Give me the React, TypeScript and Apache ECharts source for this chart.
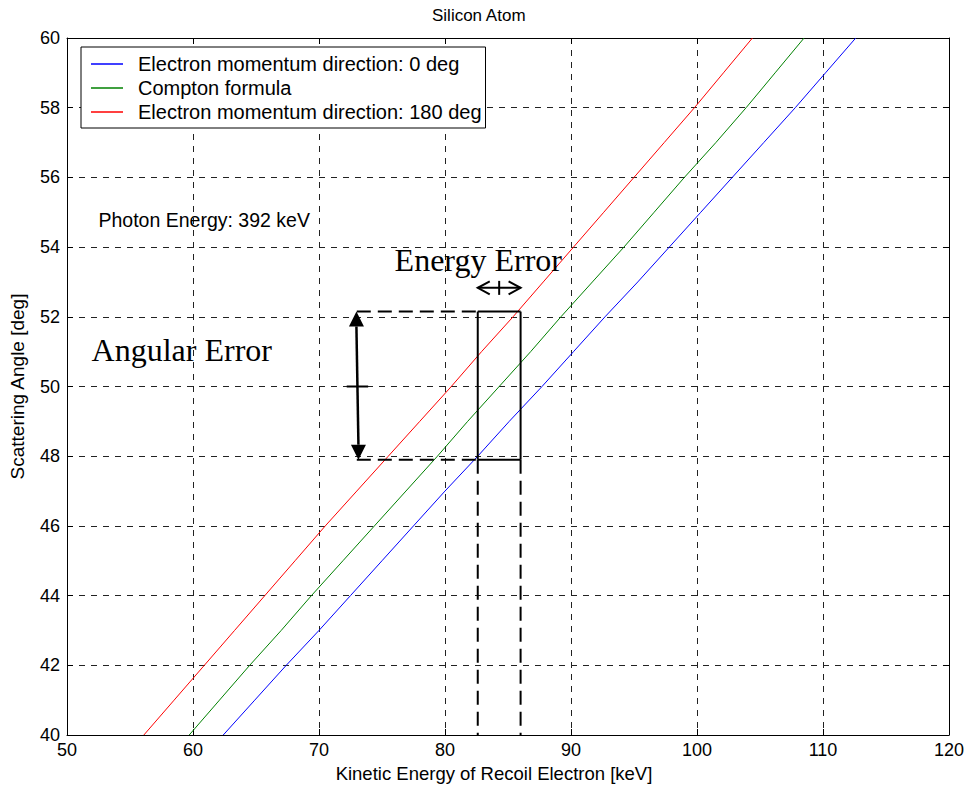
import React, { useEffect, useRef } from "react";
import * as echarts from "echarts";

// Scattering angle [deg]
const angles = [40, 41, 42, 43, 44, 45, 46, 47, 48, 49, 50, 51, 52, 53, 54, 55, 56, 57, 58, 59, 60];
// Kinetic energy of recoil electron [keV]
const energy0deg = [62.4, 64.9, 67.4, 70.0, 72.5, 75.0, 77.5, 80.0, 82.6, 85.1, 87.7, 90.2, 92.7, 95.3, 97.8, 100.3, 102.8, 105.3, 107.8, 110.2, 112.6];
const energyCompton = [59.7, 62.1, 64.5, 67.0, 69.4, 71.9, 74.4, 76.9, 79.4, 81.8, 84.3, 86.8, 89.2, 91.7, 94.2, 96.6, 99.0, 101.5, 103.9, 106.2, 108.5];
const energy180deg = [56.1, 58.5, 60.9, 63.3, 65.7, 68.1, 70.5, 73.0, 75.5, 78.0, 80.5, 82.9, 85.4, 87.8, 90.2, 92.6, 95.0, 97.4, 99.8, 102.1, 104.4];

const seriesNames = [
  "Electron momentum direction: 0 deg",
  "Compton formula",
  "Electron momentum direction: 180 deg",
];
const seriesColors = ["#0000ff", "#008000", "#ff0000"];

// Annotation geometry (data coordinates)
const boxLeft = 82.6;
const boxRight = 86.0;
const boxTop = 52.15;
const boxBottom = 47.9;
const dashLeft = 73.0;
const angArrowX = 73.05;
const angMid = 50.0;
const angTickHalf = 0.85;
const energyArrowY = 52.83;
const energyTickX = 84.3;
// label anchor points: [x, baseline y]
const photonLabelPos = [52.5, 54.6];
const angularLabelPos = [51.95, 50.7];
const energyLabelPos = [76.0, 53.3];

const FONT = "'Liberation Sans', Arial, Helvetica, sans-serif";
const SERIF = "'Liberation Serif', 'Times New Roman', serif";

export default function App() {
  const ref = useRef<HTMLDivElement>(null);

  useEffect(() => {
    if (!ref.current) return;
    const chart = echarts.init(ref.current, undefined, { renderer: "svg" });

    const mk = (xs: number[]) => xs.map((x, i) => [x, angles[i]]);
    const seriesData = [mk(energy0deg), mk(energyCompton), mk(energy180deg)];

    const axisCommon = {
      axisLine: { show: true, onZero: false, lineStyle: { color: "#000", width: 1 } },
      axisTick: { show: true, inside: true, length: 6, lineStyle: { color: "#000", width: 1 } },
    };

    chart.setOption({
      animation: false,
      backgroundColor: "#fff",
      title: {
        text: "Silicon Atom",
        left: 427,
        top: 2,
        textStyle: { fontFamily: FONT, fontSize: 17, fontWeight: "normal", color: "#000" },
      },
      grid: { left: 67, right: 15, top: 38, bottom: 53, containLabel: false },
      legend: {
        left: 81,
        top: 47,
        orient: "vertical",
        backgroundColor: "#fff",
        borderColor: "#000",
        borderWidth: 1,
        borderRadius: 0,
        padding: [5, 4, 4, 10],
        itemGap: 0,
        itemWidth: 32,
        itemHeight: 1.5,
        icon: "rect",
        data: seriesNames,
        textStyle: {
          fontFamily: FONT,
          fontSize: 20,
          color: "#000",
          lineHeight: 24,
          padding: [0, 0, 0, 10],
        },
      },
      xAxis: [
        {
          type: "value",
          min: 50,
          max: 120,
          interval: 10,
          position: "bottom",
          ...axisCommon,
          axisLabel: { color: "#000", fontFamily: FONT, fontSize: 18, margin: 6 },
          splitLine: { show: true, lineStyle: { color: "#222", width: 1, type: [6, 6] } },
          name: "Kinetic Energy of Recoil Electron [keV]",
          nameLocation: "middle",
          nameGap: 29,
          nameTextStyle: { color: "#000", fontFamily: FONT, fontSize: 18.5, padding: [0, 28, 0, 0] },
        },
        {
          type: "value",
          min: 50,
          max: 120,
          interval: 10,
          position: "top",
          ...axisCommon,
          axisLabel: { show: false },
          splitLine: { show: false },
        },
      ],
      yAxis: [
        {
          type: "value",
          min: 40,
          max: 60,
          interval: 2,
          position: "left",
          ...axisCommon,
          axisLabel: { color: "#000", fontFamily: FONT, fontSize: 18, margin: 7 },
          splitLine: { show: true, lineStyle: { color: "#222", width: 1, type: [6, 6] } },
          name: "Scattering Angle [deg]",
          nameLocation: "middle",
          nameGap: 40,
          nameTextStyle: { color: "#000", fontFamily: FONT, fontSize: 19 },
        },
        {
          type: "value",
          min: 40,
          max: 60,
          interval: 2,
          position: "right",
          ...axisCommon,
          axisLabel: { show: false },
          splitLine: { show: false },
        },
      ],
      series: seriesData.map((d, i) => ({
        name: seriesNames[i],
        type: "line",
        xAxisIndex: 0,
        yAxisIndex: 0,
        data: d,
        showSymbol: false,
        symbol: "none",
        lineStyle: { color: seriesColors[i], width: 1 },
        itemStyle: { color: seriesColors[i] },
        z: 3,
      })),
    });

    const P = (x: number, y: number) =>
      chart.convertToPixel({ xAxisIndex: 0, yAxisIndex: 0 }, [x, y]) as number[];

    const thick = { stroke: "#000", lineWidth: 2 };
    const dashed = { stroke: "#000", lineWidth: 2, lineDash: [14, 7] };

    const line = (a: number[], b: number[], style: any) => ({
      type: "line",
      shape: { x1: a[0], y1: a[1], x2: b[0], y2: b[1] },
      style,
      z: 10,
    });

    const tl = P(boxLeft, boxTop);
    const tr = P(boxRight, boxTop);
    const bl = P(boxLeft, boxBottom);
    const br = P(boxRight, boxBottom);
    const dtl = P(dashLeft, boxTop);
    const dbl = P(dashLeft, boxBottom);
    const axisBottomL = P(boxLeft, 40);
    const axisBottomR = P(boxRight, 40);
    const aTop = P(angArrowX - 0.08, boxTop);
    const aBot = P(angArrowX + 0.08, boxBottom);
    const aMidL = P(angArrowX - angTickHalf, angMid);
    const aMidR = P(angArrowX + angTickHalf, angMid);
    const eL = P(boxLeft, energyArrowY);
    const eR = P(boxRight, energyArrowY);
    const eT = P(energyTickX, energyArrowY);
    const ph = P(photonLabelPos[0], photonLabelPos[1]);
    const ang = P(angularLabelPos[0], angularLabelPos[1]);
    const en = P(energyLabelPos[0], energyLabelPos[1]);

    const head = 15;
    const hw = 7.5;
    const chev = 12;

    const serifSize = 32;
    const serifAscent = serifSize * 0.87;

    const graphics: any[] = [
      line(dtl, tl, dashed),
      line(dbl, bl, dashed),
      line(tl, tr, thick),
      line(tr, br, thick),
      line(br, bl, thick),
      line(bl, tl, thick),
      line(bl, axisBottomL, dashed),
      line(br, axisBottomR, dashed),
      line([aTop[0], aTop[1] + head], [aBot[0], aBot[1] - head], { stroke: "#000", lineWidth: 2.5 }),
      line(aMidL, aMidR, thick),
      {
        type: "polygon",
        shape: { points: [[aTop[0], aTop[1]], [aTop[0] - hw, aTop[1] + head], [aTop[0] + hw, aTop[1] + head]] },
        style: { fill: "#000" },
        z: 10,
      },
      {
        type: "polygon",
        shape: { points: [[aBot[0], aBot[1]], [aBot[0] - hw, aBot[1] - head], [aBot[0] + hw, aBot[1] - head]] },
        style: { fill: "#000" },
        z: 10,
      },
      line(eL, eR, thick),
      line([eT[0], eT[1] - 7], [eT[0], eT[1] + 7], thick),
      {
        type: "polyline",
        shape: { points: [[eL[0] + chev, eL[1] - 6.5], [eL[0], eL[1]], [eL[0] + chev, eL[1] + 6.5]] },
        style: { stroke: "#000", lineWidth: 2, fill: null },
        z: 10,
      },
      {
        type: "polyline",
        shape: { points: [[eR[0] - chev, eR[1] - 6.5], [eR[0], eR[1]], [eR[0] - chev, eR[1] + 6.5]] },
        style: { stroke: "#000", lineWidth: 2, fill: null },
        z: 10,
      },
      {
        type: "text",
        x: ph[0],
        y: ph[1] + 4,
        style: {
          text: "Photon Energy: 392 keV",
          fontFamily: FONT,
          fontSize: 19.5,
          fill: "#000",
          verticalAlign: "bottom",
        },
        z: 10,
      },
      {
        type: "text",
        x: ang[0],
        y: ang[1] - serifAscent,
        style: {
          text: "Angular Error",
          fontFamily: SERIF,
          fontSize: serifSize,
          fill: "#000",
          verticalAlign: "top",
        },
        z: 10,
      },
      {
        type: "text",
        x: en[0],
        y: en[1] - serifAscent,
        style: {
          text: "Energy Error",
          fontFamily: SERIF,
          fontSize: serifSize,
          fill: "#000",
          verticalAlign: "top",
        },
        z: 10,
      },
    ];

    chart.setOption({ graphic: graphics });

    return () => chart.dispose();
  }, []);

  return <div ref={ref} style={{ width: 967, height: 788, position: "absolute", left: 0, top: 0 }} />;
}
